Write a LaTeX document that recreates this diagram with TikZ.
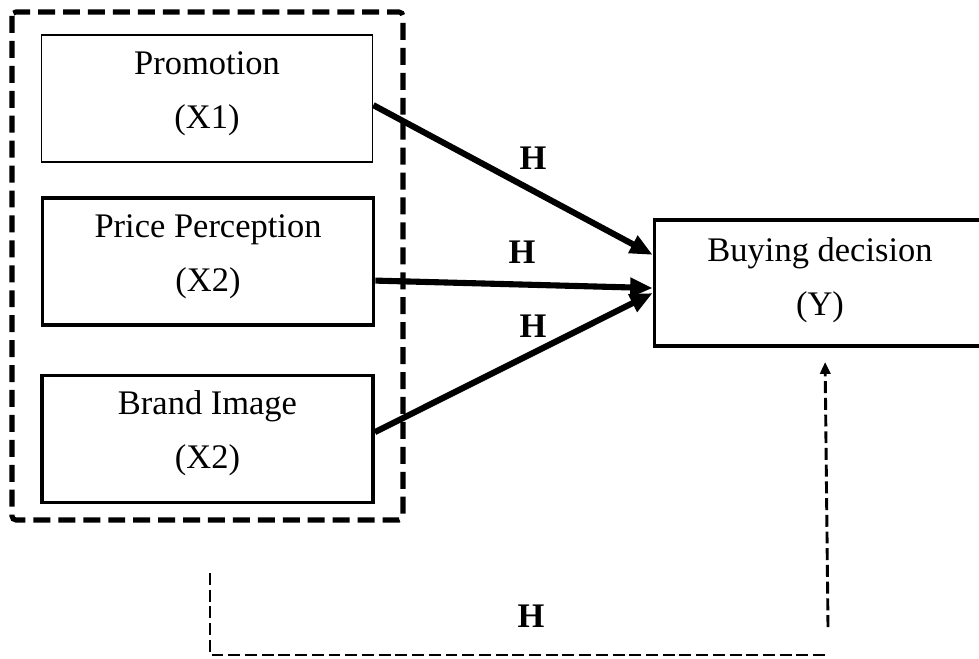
\documentclass[tikz,border=0pt]{standalone}
\usepackage{fontspec}
\setmainfont{Liberation Serif}
\usetikzlibrary{arrows.meta}

\begin{document}
\begin{tikzpicture}[x=0.377pt,y=-0.377pt,>={Triangle[length=8.5pt,width=7pt]},
  varbox/.style={draw,line width=1.4pt,minimum width=124.8pt,minimum height=47.9pt,inner sep=0pt},
  boxtext/.style={anchor=base,inner sep=0pt,font=\fontsize{13}{15.6}\selectfont},
  hyplabel/.style={anchor=base,inner sep=0pt,font=\fontsize{13}{15.6}\selectfont\bfseries},
  hyparrow/.style={->,line width=2.3pt},
  groupframe/.style={line width=1.9pt,dash pattern=on 6.4pt off 3pt,rounded corners=1.5pt},
  feedback/.style={line width=1.1pt,dash pattern=on 4.5pt off 1.8pt}]
  % Ventana
  \clip (0,0) rectangle (979,658);

  % Variables independientes
  \node[varbox,line width=0.6pt] (promo) at (207,98.5) {};
  \node[boxtext] (promoName) at (207,74) {Promotion};
  \node[boxtext] (promoVar) at (207,128) {(X1)};

  \node[varbox] (price) at (208,261.5) {};
  \node[boxtext] (priceName) at (208,237) {Price Perception};
  \node[boxtext] (priceVar) at (208,291) {(X2)};

  \node[varbox] (brand) at (207.5,439) {};
  \node[boxtext] (brandName) at (207.5,414.5) {Brand Image};
  \node[boxtext] (brandVar) at (207.5,468.5) {(X2)};

  % Marco punteado del grupo
  \draw[groupframe] (12,12) rectangle (403,520);

  % Variable dependiente
  \node[varbox,minimum width=133.8pt,minimum height=47.5pt] (buy) at (832,283) {};
  \node[boxtext] (buyName) at (820,261) {Buying decision};
  \node[boxtext] (buyVar) at (820,315) {(Y)};

  % Hipotesis
  \draw[hyparrow] ([yshift=-2.5pt]promo.east) -- ([yshift=10.6pt]buy.west);
  \draw[hyparrow] ([yshift=-7.2pt]price.east) -- ([yshift=-1.9pt]buy.west);
  \draw[hyparrow] ([yshift=2.6pt]brand.east) -- ([yshift=-3.8pt]buy.west);
  \node[hyplabel] (h1) at (533,169) {H};
  \node[hyplabel] (h2) at (522,263) {H};
  \node[hyplabel] (h3) at (533,337) {H};

  % Efecto simultaneo
  \coordinate (fbTop) at (210,573);
  \coordinate (fbCorner) at (210,655);
  \coordinate (fbEnd) at (828,655);
  \coordinate (fbFoot) at (828,627);
  \draw[feedback] (fbTop) -- (fbCorner) -- (fbEnd);
  \draw[feedback,-{Triangle[length=4.5pt,width=3.8pt]}] (fbFoot) -- ([xshift=-2.6pt,yshift=-5.3pt]buy.south);
  \node[hyplabel] (h4) at (531,627) {H};
\end{tikzpicture}
\end{document}
